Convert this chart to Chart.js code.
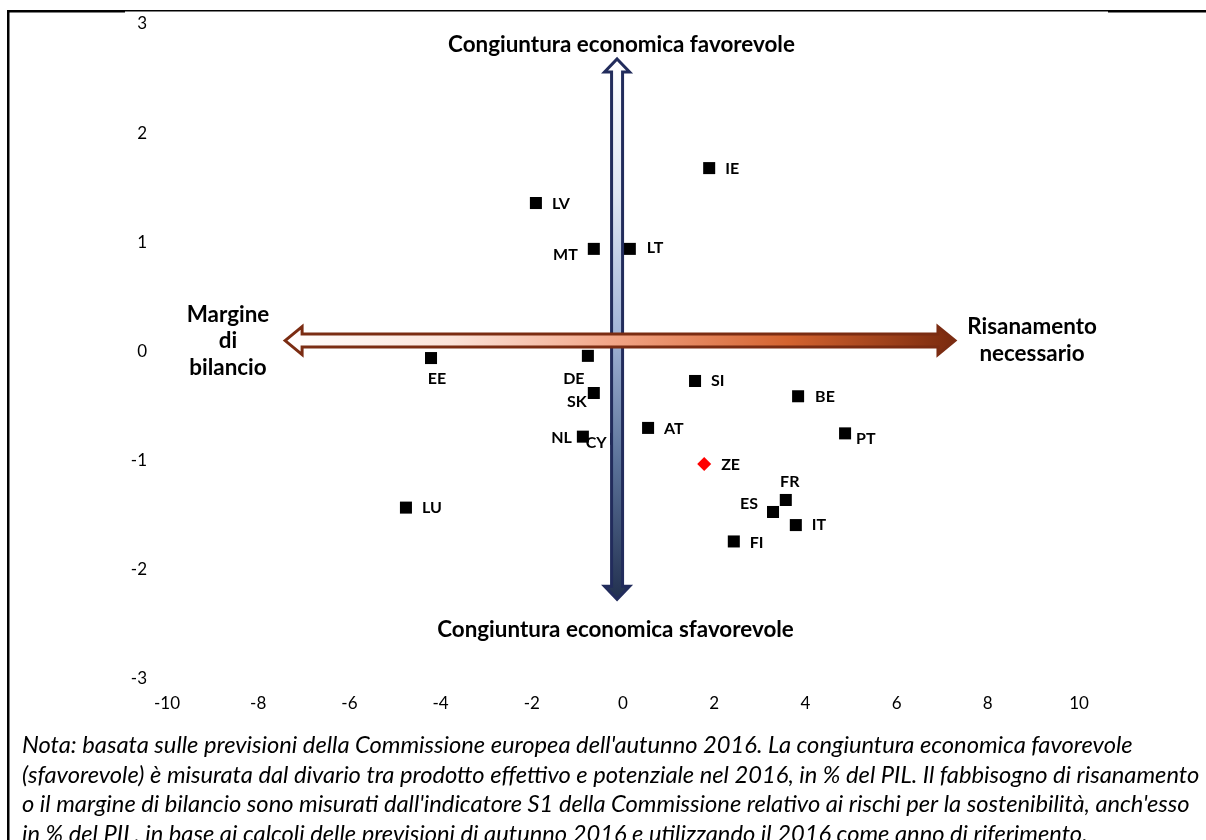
<!DOCTYPE html>
<html><head><meta charset="utf-8">
<script src="https://cdn.jsdelivr.net/npm/chart.js@4"></script>
<style>html,body{margin:0;padding:0;background:#fff}canvas{display:block}</style>
</head><body>
<canvas id="c" width="1206" height="840"></canvas>
<script>
// ---- data ----
const countries = ['IE','LV','MT','LT','EE','DE','SK','SI','BE','AT','NL','CY','PT','FR','ES','IT','FI','LU'];
const sustainabilityS1 = [1.89,-1.91,-0.64,0.15,-4.21,-0.77,-0.64,1.58,3.84,0.55,-0.88,-0.15,4.87,3.57,3.29,3.79,2.43,-4.76];
const outputGap = [1.68,1.36,0.94,0.94,-0.06,-0.04,-0.38,-0.27,-0.41,-0.70,-0.78,-0.80,-0.75,-1.36,-1.47,-1.59,-1.74,-1.43];
const areaLabels = ['ZE'];
const areaS1 = [1.78];
const areaGap = [-1.03];
const xTickValues = [-10,-8,-6,-4,-2,0,2,4,6,8,10];
const yTickValues = [-3,-2,-1,0,1,2,3];
const titleTop = 'Congiuntura economica favorevole';
const titleBottom = 'Congiuntura economica sfavorevole';
const titleLeft = ['Margine','di','bilancio'];
const titleRight = ['Risanamento','necessario'];
const noteLines = [
 "Nota: basata sulle previsioni della Commissione europea dell'autunno 2016. La congiuntura economica favorevole",
 "(sfavorevole) è misurata dal divario tra prodotto effettivo e potenziale nel 2016, in % del PIL. Il fabbisogno di risanamento",
 "o il margine di bilancio sono misurati dall'indicatore S1 della Commissione relativo ai rischi per la sostenibilità, anch'esso",
 "in % del PIL, in base ai calcoli delle previsioni di autunno 2016 e utilizzando il 2016 come anno di riferimento."
];

// ---- styles (label placement: dx, dy, align) ----
const labelPlacement = {
 IE:[16,1,'left'], LV:[16,1,'left'], MT:[-16,6,'right'], LT:[17,-1,'left'],
 EE:[6,21,'center'], DE:[-14,23,'center'], SK:[-17,9,'center'], SI:[16,0,'left'],
 BE:[17,1,'left'], AT:[16,1,'left'], NL:[-11,1,'right'], CY:[-20,4,'center'],
 PT:[11,5,'left'], FR:[4,-18,'center'], ES:[-15,-8,'right'], IT:[16,0,'left'],
 FI:[16,1,'left'], LU:[16,0,'left'], ZE:[17,1,'left']
};
const H_ARROW = {x0:-7.41, x1:7.28, y:0.10};
const V_ARROW = {x:-0.13, y0:2.68, y1:-2.27};
const FONT = 'Lato, "Open Sans", sans-serif';

function fitSize(ctx, text, style, target){
  ctx.font = style + ' 20px ' + FONT;
  return 20 * target / ctx.measureText(text).width;
}

const decor = {
  id:'decor',
  beforeDraw(chart){
    const ctx = chart.ctx;
    ctx.save();
    ctx.fillStyle = '#fff';
    ctx.fillRect(0,0,chart.width,chart.height);
    ctx.fillStyle = '#000';
    ctx.fillRect(7,10,2.5,830);
    ctx.fillRect(7,10,118,2.5);
    ctx.fillRect(125,10,983,1.5);
    ctx.fillRect(1108,10,98,2.5);
    ctx.restore();
  },
  afterDatasetsDraw(chart){
    const ctx = chart.ctx, xs = chart.scales.x, ys = chart.scales.y;
    ctx.save();
    // vertical arrow
    {
      const xc = xs.getPixelForValue(V_ARROW.x), yt = ys.getPixelForValue(V_ARROW.y0), yb = ys.getPixelForValue(V_ARROW.y1);
      const sh = 5.5, hh = 12.5, hl = 13;
      ctx.beginPath();
      ctx.moveTo(xc, yt);
      ctx.lineTo(xc+hh, yt+hl); ctx.lineTo(xc+sh, yt+hl); ctx.lineTo(xc+sh, yb-hl);
      ctx.lineTo(xc+hh, yb-hl); ctx.lineTo(xc, yb); ctx.lineTo(xc-hh, yb-hl);
      ctx.lineTo(xc-sh, yb-hl); ctx.lineTo(xc-sh, yt+hl); ctx.lineTo(xc-hh, yt+hl);
      ctx.closePath();
      const g = ctx.createLinearGradient(0, yt, 0, yb);
      g.addColorStop(0,'#ffffff'); g.addColorStop(0.25,'#dfe6f3'); g.addColorStop(0.5,'#a4b6d8');
      g.addColorStop(0.75,'#5a7198'); g.addColorStop(1,'#22304f');
      ctx.fillStyle = g; ctx.fill();
      ctx.lineWidth = 3; ctx.strokeStyle = '#222c5c'; ctx.lineJoin = 'miter'; ctx.stroke();
    }
    // horizontal arrow
    {
      const xl = xs.getPixelForValue(H_ARROW.x0), xr = xs.getPixelForValue(H_ARROW.x1), yc = ys.getPixelForValue(H_ARROW.y);
      const sh = 6.5, hh = 14, hl = 17;
      ctx.beginPath();
      ctx.moveTo(xl, yc);
      ctx.lineTo(xl+hl, yc-hh); ctx.lineTo(xl+hl, yc-sh); ctx.lineTo(xr-hl, yc-sh);
      ctx.lineTo(xr-hl, yc-hh); ctx.lineTo(xr, yc); ctx.lineTo(xr-hl, yc+hh);
      ctx.lineTo(xr-hl, yc+sh); ctx.lineTo(xl+hl, yc+sh); ctx.lineTo(xl+hl, yc+hh);
      ctx.closePath();
      const g = ctx.createLinearGradient(xl, 0, xr, 0);
      g.addColorStop(0,'#ffffff'); g.addColorStop(0.25,'#fbe2d8'); g.addColorStop(0.5,'#f1a283');
      g.addColorStop(0.75,'#d4632f'); g.addColorStop(1,'#7a2a0e');
      ctx.fillStyle = g; ctx.fill();
      ctx.lineWidth = 3; ctx.strokeStyle = '#7b2c12'; ctx.stroke();
    }
    // point labels
    ctx.fillStyle = '#000';
    ctx.font = 'bold 16px ' + FONT;
    ctx.textBaseline = 'middle';
    chart.data.datasets.forEach((ds, di) => {
      const meta = chart.getDatasetMeta(di);
      meta.data.forEach((el, i) => {
        const name = ds.names[i];
        const p = labelPlacement[name] || [16,0,'left'];
        ctx.textAlign = p[2];
        ctx.fillText(name, el.x + p[0], el.y + p[1]);
      });
    });
    // quadrant titles
    const ts = fitSize(ctx, titleTop, 'bold', 347);
    ctx.font = 'bold ' + ts + 'px ' + FONT;
    ctx.textAlign = 'center';
    ctx.fillText(titleTop, 621.5, 45);
    ctx.fillText(titleBottom, 615.5, 630);
    ctx.fillText(titleLeft[0], 228, 315);
    ctx.fillText(titleLeft[1], 228, 341);
    ctx.fillText(titleLeft[2], 228, 368);
    ctx.fillText(titleRight[0], 1032, 327);
    ctx.fillText(titleRight[1], 1032, 354);
    // note
    const ns = fitSize(ctx, noteLines[1], 'italic', 1178);
    ctx.font = 'italic ' + ns + 'px ' + FONT;
    ctx.textAlign = 'left';
    const ny = [745, 775, 804.5, 834];
    noteLines.forEach((t, i) => ctx.fillText(t, 22, ny[i]));
    ctx.restore();
  }
};

const ctx = document.getElementById('c').getContext('2d');
new Chart(ctx, {
  type: 'scatter',
  data: {
    datasets: [
      { names: countries, data: countries.map((c,i)=>({x:sustainabilityS1[i], y:outputGap[i]})),
        pointStyle:'rect', pointRadius:8.5, pointHoverRadius:8.5, backgroundColor:'#000', borderWidth:0 },
      { names: areaLabels, data: areaLabels.map((c,i)=>({x:areaS1[i], y:areaGap[i]})),
        pointStyle:'rectRot', pointRadius:7, pointHoverRadius:7, backgroundColor:'#ff0000', borderWidth:0 }
    ]
  },
  options: {
    responsive:false, animation:false, devicePixelRatio:1,
    layout:{ padding:{ left:10, right:127, top:24, bottom:111 } },
    plugins:{ legend:{display:false}, tooltip:{enabled:false} },
    scales:{
      x:{ type:'linear', min:-10, max:10,
          afterBuildTicks: s => { s.ticks = xTickValues.map(v=>({value:v})); },
          afterFit: s => { s.height = 50; s.paddingLeft = 0; s.paddingRight = 0; },
          grid:{ display:false, drawTicks:false }, border:{ display:false },
          ticks:{ color:'#000', font:{ family:FONT, size:17 }, padding:14, maxRotation:0, autoSkip:false } },
      y:{ type:'linear', min:-3, max:3,
          afterBuildTicks: s => { s.ticks = yTickValues.map(v=>({value:v})); },
          afterFit: s => { s.width = 157; s.paddingTop = 0; s.paddingBottom = 0; },
          grid:{ display:false, drawTicks:false }, border:{ display:false },
          ticks:{ color:'#000', font:{ family:FONT, size:17 }, padding:20, autoSkip:false } }
    }
  },
  plugins:[decor]
});
</script>
</body></html>
